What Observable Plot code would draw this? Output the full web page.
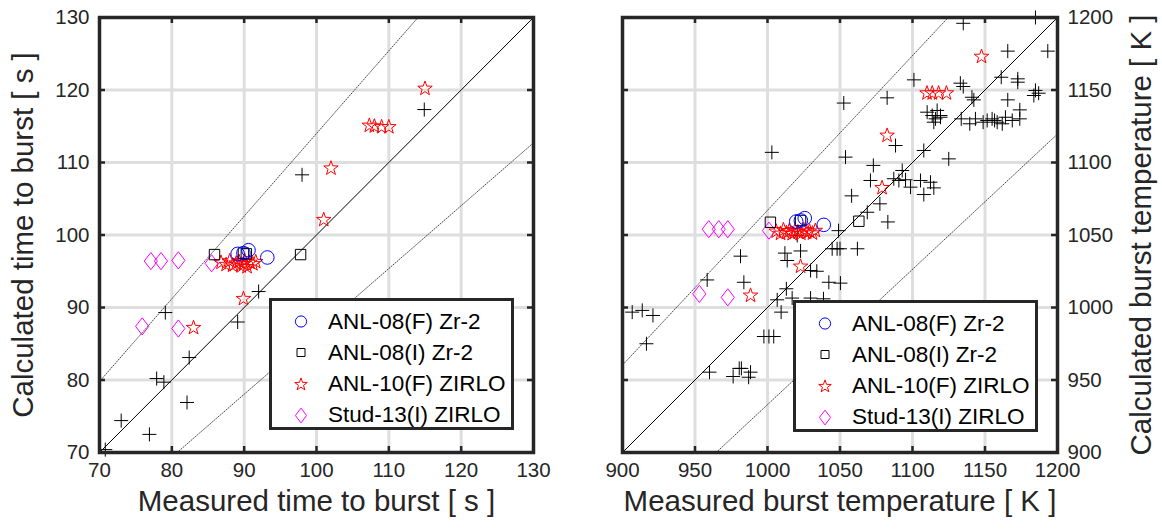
<!DOCTYPE html>
<html><head><meta charset="utf-8">
<script src="https://cdn.jsdelivr.net/npm/d3@7"></script>
<script src="https://cdn.jsdelivr.net/npm/@observablehq/plot@0.6"></script>
<style>
body{margin:0;background:#fff;}
#wrap{position:relative;width:1162px;height:531px;font-family:"Liberation Sans",Arial,sans-serif;overflow:hidden}
.panel{position:absolute;top:0}
.legend{position:absolute;background:#fff;border:3px solid #262626;box-sizing:border-box;}
.row{position:absolute;left:0;height:31px;display:flex;align-items:center;font-size:22.5px;color:#000;white-space:nowrap}
.row svg{display:block}
</style></head><body><div id="wrap"></div>
<script>
// ---------- data: time to burst [s] (measured, calculated) ----------
const timeTicks = [70, 80, 90, 100, 110, 120, 130];
const timeOther = [[70.8,70.4],[73.0,74.4],[76.9,72.5],[77.9,80.2],[78.9,79.7],[79.1,89.3],[82.1,76.9],[82.4,83.1],[89.1,88.0],[92.0,92.2],[98.0,108.3],[114.9,117.3]];
const timeCircle = [[89.1,97.4],[89.9,97.5],[90.6,97.9],[93.2,96.9]];
const timeSquare = [[85.9,97.3],[89.9,97.5],[90.3,97.4],[97.8,97.3]];
const timeStar = [[86.8,96.2],[87.5,95.9],[88.0,96.4],[88.4,95.8],[88.9,96.1],[89.3,96.3],[89.6,95.7],[89.9,96.0],[90.1,96.4],[90.4,95.6],[90.8,96.2],[91.2,96.0],[91.6,96.3],
  [89.9,91.2],[83.0,87.2],[101.0,102.1],[102.0,109.2],[107.3,115.1],[108.0,115.0],[109.0,114.9],[110.0,114.9],[115.0,120.2]];
const timeDiamond = [[77.1,96.4],[78.5,96.4],[80.9,96.5],[85.5,96.1],[75.9,87.4],[80.9,87.1]];
const timeBand = [0.867, 1.14];

// ---------- data: burst temperature [K] (measured, calculated) ----------
const tempTicks = [900, 950, 1000, 1050, 1100, 1150, 1200];
const tempOther = [[1135,1196],[1184.8,1200],[1165.7,1176.8],[1193.3,1176.8],[1101,1157],[1133,1154.7],[1135,1152.4],[1161.2,1158.8],[1172.6,1157.7],[1172.6,1155.4],
  [1082.5,1144.6],[1141,1145],[1142.3,1143.2],[1165.7,1143.2],[1184.8,1149.7],[1187,1147.8],[1183.7,1146.2],[1052.6,1141],[1174,1136.3],[1119.3,1131.2],[1133.6,1130.1],
  [1139.5,1126.7],[1143.4,1130.1],[1148.7,1127.8],[1151.5,1129],[1154.9,1130.1],[1156.6,1129],[1158.4,1127.8],[1161.9,1126.7],[1164.1,1131.2],[1168.8,1129],[1174,1130.1],
  [1110.1,1134.7],[1113.6,1132.4],[1115.9,1130.1],[1117,1135.9],[1114.7,1127.8],[1119.3,1132.4],
  [1088.3,1111.7],[1107.8,1108.3],[1125,1102.5],[1003,1107],[1053.8,1103.7],[1073,1098],[1092.9,1094.5],
  [1087.1,1088.8],[1090.6,1087.6],[1095.2,1088.1],[1098.6,1083],[1105.5,1087.6],[1112.4,1086.4],[1114.7,1082.5],[1071,1087.6],[1107.8,1077.9],[1058,1077],[1077.5,1071.5],[1068.8,1065.7],[1083,1059],[1049,1053],
  [1020.5,1049.7],[1044.6,1040.5],[1048,1040.5],[1050,1040.5],[1062,1040.5],[1012,1037.5],[1022.8,1039],[1013.6,1032.4],[981.4,1035.4],[1029.7,1025.5],[1034,1025],[1042.3,1017.4],[1050.3,1016.8],
  [958.4,1019],[983.7,1017.4],[1013,1012.9],[1006.7,1005.3],[1017,1006.5],[1029.7,1006.5],[1038.6,1006],[1009.4,996.8],[906.7,996.8],[913.6,998],[921,994.5],[916.5,975],
  [997.5,980],[1001,980],[1004.3,980],[960,955.4],[976.3,952.4],[980.5,958],[982,958],[988.3,955.4],[987,951.9]];
const tempCircle = [[1019.8,1059.3],[1023,1060],[1025.7,1061.6],[1038.8,1057]];
const tempSquare = [[1002,1058.8],[1022.8,1060],[1063,1059.5]];
const tempStar = [[1006,1052.5],[1009,1051],[1011,1053.5],[1013,1051.5],[1015,1052.8],[1017,1050.8],[1019,1053],[1021,1052],[1023,1051],[1025,1053.5],[1027,1051.8],[1029,1052.6],[1031,1051.2],[1033,1053],
  [1022.8,1028.3],[988.3,1008.3],[1079,1082.5],[1082.5,1118.6],[1110,1147.8],[1113.6,1147.8],[1118,1147.8],[1123.4,1147.8],[1147.6,1173]];
const tempDiamond = [[959.5,1054],[966.4,1054],[972.6,1054],[1001,1053],[953,1009.4],[972.6,1007]];
const tempBand = [0.933, 1.067];

const seriesNames = ["ANL-08(F) Zr-2", "ANL-08(I) Zr-2", "ANL-10(F) ZIRLO", "Stud-13(I) ZIRLO"];

// ---------- marker shapes ----------
function starPts(R, r) {
  const p = [];
  for (let i = 0; i < 10; i++) {
    const a = -Math.PI / 2 + i * Math.PI / 5, rr = i % 2 ? r : R;
    p.push([rr * Math.cos(a), rr * Math.sin(a)]);
  }
  return p;
}
const sym = {
  plus: (s=7) => ({draw(c){c.moveTo(-s,0);c.lineTo(s,0);c.moveTo(0,-s);c.lineTo(0,s);}}),
  circle: (s=6.8) => ({draw(c){c.moveTo(s,0);c.arc(0,0,s,0,2*Math.PI);c.closePath();}}),
  square: (s=5.2) => ({draw(c){c.moveTo(-s,-s);c.lineTo(s,-s);c.lineTo(s,s);c.lineTo(-s,s);c.closePath();}}),
  star: (R=7.6) => ({draw(c){const p=starPts(R,R*0.4);c.moveTo(p[0][0],p[0][1]);for(let i=1;i<p.length;i++)c.lineTo(p[i][0],p[i][1]);c.closePath();}}),
  diamond: (w=6.6,h=8.6) => ({draw(c){c.moveTo(0,-h);c.lineTo(w,0);c.lineTo(0,h);c.lineTo(-w,0);c.closePath();}})
};

const FONT = "Liberation Sans, Arial, sans-serif";
const AX = "#262626";
const fmt = d => String(d);

function panel({ticks, band, other, circle, square, star, diamond, width, mL, mR, yAxis, xLabel, yLabel, yLabelDx}) {
  const lo = ticks[0], hi = ticks[ticks.length - 1];
  const tl = (hi - lo) * 6 / 435;
  const ref = k => {
    const x0 = Math.max(lo, lo / k), x1 = Math.min(hi, hi / k);
    return [[x0, k * x0], [x1, k * x1]];
  };
  const pt = {x: d => d[0], y: d => d[1]};
  return Plot.plot({
    width, height: 531, marginLeft: mL, marginRight: mR, marginTop: 17, marginBottom: 79,
    style: {fontFamily: FONT, background: "transparent", overflow: "visible"},
    x: {domain: [lo, hi], ticks},
    y: {domain: [lo, hi], ticks},
    marks: [
      Plot.gridX(ticks, {stroke: "#dedede", strokeOpacity: 1, strokeWidth: 3}),
      Plot.gridY(ticks, {stroke: "#dedede", strokeOpacity: 1, strokeWidth: 3}),
      Plot.ruleX(ticks, {x: d => d, y1: lo, y2: lo + tl, stroke: AX, strokeWidth: 2.5}),
      Plot.ruleX(ticks, {x: d => d, y1: hi - tl, y2: hi, stroke: AX, strokeWidth: 2.5}),
      Plot.ruleY(ticks, {y: d => d, x1: lo, x2: lo + tl, stroke: AX, strokeWidth: 2.5}),
      Plot.ruleY(ticks, {y: d => d, x1: hi - tl, x2: hi, stroke: AX, strokeWidth: 2.5}),
      Plot.line(ref(1), {...pt, stroke: "#000", strokeWidth: 1}),
      Plot.line(ref(band[0]), {...pt, stroke: "#333", strokeWidth: 0.9, strokeDasharray: "1,1.6"}),
      Plot.line(ref(band[1]), {...pt, stroke: "#333", strokeWidth: 0.9, strokeDasharray: "1,1.6"}),
      Plot.dot(other, {...pt, symbol: sym.plus(), r: 4, stroke: "#000", strokeWidth: 1, fill: "none"}),
      Plot.dot(diamond, {...pt, symbol: sym.diamond(), r: 4, stroke: "#ff00ff", strokeWidth: 1, fill: "none"}),
      Plot.dot(star, {...pt, symbol: sym.star(), r: 4, stroke: "#ff0000", strokeWidth: 1, fill: "none"}),
      Plot.dot(square, {...pt, symbol: sym.square(), r: 4, stroke: "#000", strokeWidth: 1, fill: "none"}),
      Plot.dot(circle, {...pt, symbol: sym.circle(), r: 4, stroke: "#0000ff", strokeWidth: 1, fill: "none"}),
      Plot.frame({stroke: AX, strokeWidth: 3.5}),
      Plot.axisX(ticks, {tickSize: 0, tickPadding: 10, fontSize: 20.5, fill: AX, label: null, tickFormat: fmt}),
      Plot.axisY(ticks, {anchor: yAxis, tickSize: 0, tickPadding: 10, fontSize: 20.5, fill: AX, label: null, tickFormat: fmt}),
      Plot.text([xLabel], {frameAnchor: "bottom", dy: 58, textAnchor: "middle", fontSize: 29.5, fill: AX}),
      Plot.text([yLabel], {frameAnchor: yAxis, dx: yLabelDx, rotate: -90, textAnchor: "middle", fontSize: 29.5, fill: AX})
    ]
  });
}

const wrap = document.getElementById("wrap");
function place(el, left) {
  const d = document.createElement("div");
  d.className = "panel"; d.style.left = left + "px";
  d.appendChild(el); wrap.appendChild(d);
}
place(panel({ticks: timeTicks, band: timeBand, other: timeOther, circle: timeCircle, square: timeSquare, star: timeStar, diamond: timeDiamond,
  width: 560, mL: 99, mR: 27, yAxis: "left", xLabel: "Measured time to burst [ s ]", yLabel: "Calculated time to burst [ s ]", yLabelDx: -76}), 0);
place(panel({ticks: tempTicks, band: tempBand, other: tempOther, circle: tempCircle, square: tempSquare, star: tempStar, diamond: tempDiamond,
  width: 602, mL: 62, mR: 105, yAxis: "right", xLabel: "Measured burst temperature [ K ]", yLabel: "Calculated burst temperature [ K ]", yLabelDx: 84}), 560);

// ---------- legends ----------
const legendSyms = [
  {s: sym.circle(5.6), c: "#0000ff"},
  {s: sym.square(4), c: "#000"},
  {s: sym.star(6.6), c: "#ff0000"},
  {s: sym.diamond(5.6, 7.4), c: "#ff00ff"}
];
function legend(left, top) {
  const box = document.createElement("div");
  box.className = "legend";
  Object.assign(box.style, {left: left + "px", top: top + "px", width: "245px", height: "132px"});
  seriesNames.forEach((name, i) => {
    const row = document.createElement("div");
    row.className = "row";
    row.style.top = (5 + i * 31.3) + "px";
    const p = d3.path(); legendSyms[i].s.draw(p);
    row.innerHTML = `<svg width="56" height="31" viewBox="-29 -15.5 56 31"><path d="${p.toString()}" fill="none" stroke="${legendSyms[i].c}" stroke-width="1"/></svg><span>${name}</span>`;
    box.appendChild(row);
  });
  wrap.appendChild(box);
}
legend(269, 298);
legend(793, 300);
</script></body></html>
